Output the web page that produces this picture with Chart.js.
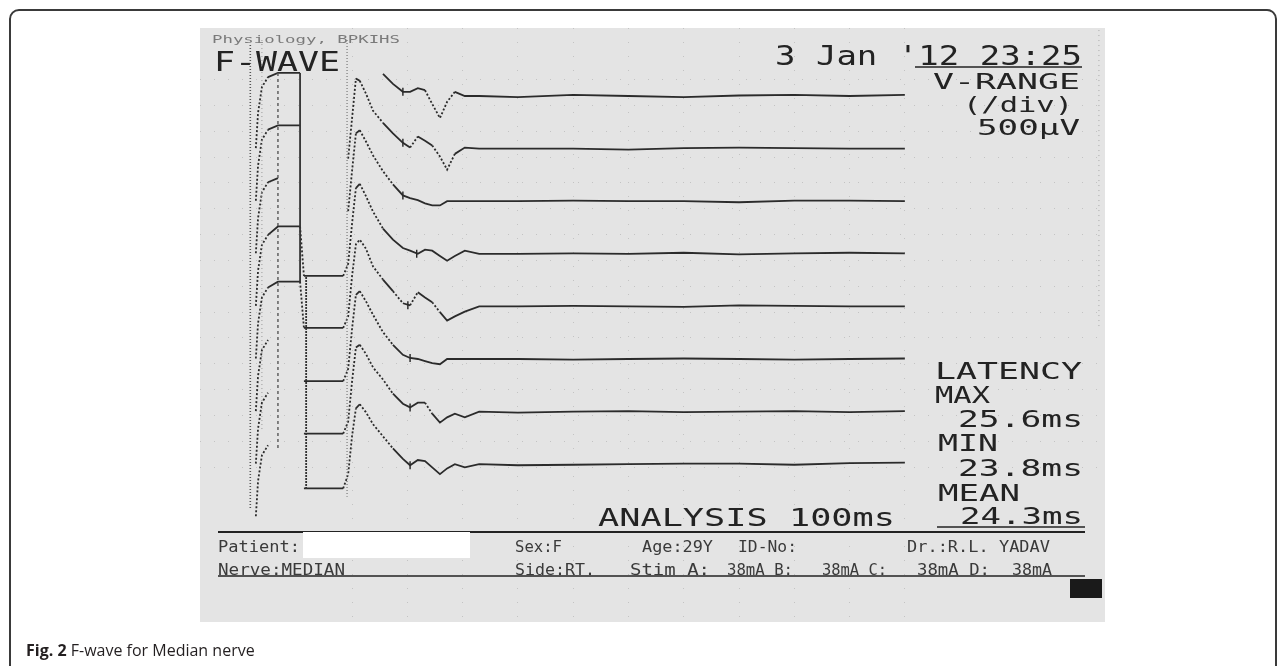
<!DOCTYPE html>
<html>
<head>
<meta charset="utf-8">
<title>F-wave for Median nerve</title>
<script src="https://cdn.jsdelivr.net/npm/chart.js@4.4.1/dist/chart.umd.min.js"></script>
<style>
html, body { margin: 0; padding: 0; background: #fff; }
body { width: 1284px; height: 666px; position: relative; overflow: hidden; }
#frame { position: absolute; left: 9px; top: 9px; width: 1268px; height: 690px; border: 2px solid #3a3a3a; border-radius: 10px; box-sizing: border-box; }
#c { position: absolute; left: 0; top: 0; }
#caption { position: absolute; left: 26px; top: 640px; font-family: "Open Sans", "Noto Sans", sans-serif; font-size: 16px; line-height: 20px; color: #231f20; white-space: nowrap; }
#caption b { font-weight: 700; }
</style>
</head>
<body>
<div id="frame"></div>
<canvas id="c" width="1284" height="666"></canvas>
<div id="caption"><b>Fig. 2</b> F-wave for Median nerve</div>
<script>
// time axis in ms (0 = stimulus), amplitude in µV, each sweep shifted down by 1000 µV
const stimTimes = [-17.4, -17.0, -16.3, -15.2, -13.4, -9.4, -8.7, -1.6];
const respTimes = [-0.7, 0, 0.7, 1.4, 2.5, 3.8, 5.6, 7.4, 9.2, 10.5,
                   11.9, 13.2, 14.5, 15.9, 17.2, 18.6, 20.4, 23,
                   30, 40, 50, 60, 70, 80, 90, 100];
const baselines = [0, -1000, -2000, -3000, -4000, -5000, -6000, -7000];

// left part of each sweep (calibration step), null = gap in the print
const stim1 = [-990, -320, 170, 360, 440, 440, null, null];
const stim2 = [-990, -320, 170, 360, 440, 440, null, null];
const stim3 = [-990, -320, 170, 360, 440, null, null, null];
const stim4 = [-990, -320, 170, 360, 520, 520, -420, -420];
const stim5 = [-990, -320, 170, 360, 470, 470, -410, -410];
const stim6 = [-990, -320, 170, 360, null, null, -420, -420];
const stim7 = [-990, -320, 170, 360, null, null, -420, -420];
const stim8 = [-990, -320, 170, 360, null, null, -460, -460];

// M-wave, F-wave and baseline of each sweep
const resp1 = [null, null, null, null, null, null, 420, 230, 80, 80, 150, 110, -150, -420, -110, 80, 0, 0, -20, 20, 0, -20, 10, 20, 0, 20];
const resp2 = [-190, 570, 1330, 1290, 1050, 720, 490, 290, 110, 20, 230, 150, 60, -150, -400, -100, 20, 0, 0, 0, -20, 10, 20, 10, 0, 0];
const resp3 = [-190, 570, 1290, 1350, 1140, 870, 570, 320, 110, 60, 20, -40, -80, -80, 0, 0, 0, 0, 0, 10, 0, 0, -20, 10, 10, 0];
const resp4 = [-190, 570, 1250, 1330, 1100, 800, 480, 270, 110, 60, 0, 80, 60, -40, -130, -40, 60, 0, 0, 10, 0, 20, -10, 10, 20, 10];
const resp5 = [-190, 570, 1180, 1270, 1100, 760, 510, 290, 60, 20, 270, 170, 80, -110, -270, -190, -100, 0, 0, 10, 0, -10, 20, 10, 0, 0];
const resp6 = [-190, 570, 1220, 1290, 1100, 840, 510, 270, 80, 20, 0, -40, -80, -100, 0, 0, 0, 0, 0, -10, 0, 10, 0, -10, 0, 10];
const resp7 = [-190, 570, 1220, 1270, 1100, 840, 610, 340, 150, 80, 170, 170, -40, -210, -110, -40, -110, 0, -20, 0, 10, -10, 0, 10, -10, 10];
const resp8 = [-190, 530, 1060, 1140, 990, 760, 530, 300, 100, -20, 80, 60, -60, -190, -80, 0, -60, 0, -20, -10, 0, 10, 10, -10, 20, 30];

// latency cursor marks on each sweep
const cursorTimes = [9.2, 9.2, 9.2, 11.7, 10.1, 10.5, 10.5, 10.5];
const cursorValues = [80, 110, 110, 0, 20, 20, 80, -20];

// dotted vertical guide lines of the printout
const guideTimes = [-18.4, -16.3, -13.4, -9.4, -8.3, -0.9, 135.1];
const guideTops = [969, 1064, 437, 437, -3440, 1064, 1254];
const guideBottoms = [-7870, -6350, -6730, -3540, -7490, -7620, -4450];

const stims = [stim1, stim2, stim3, stim4, stim5, stim6, stim7, stim8];
const resps = [resp1, resp2, resp3, resp4, resp5, resp6, resp7, resp8];
const allTimes = stimTimes.concat(respTimes);

const ink = '#232323';

// steep parts print as dotted on the thermal printer
function steepDash(ctx) {
    const dx = Math.abs(ctx.p1.x - ctx.p0.x);
    const dy = Math.abs(ctx.p1.y - ctx.p0.y);
    return dy > 1.2 * dx ? [2, 2] : undefined;
}

const guideStyles = [
    { color: '#555', width: 1.6, dash: [1, 2] },
    { color: '#999', width: 1, dash: [1, 3] },
    { color: '#555', width: 1.4, dash: [3, 3] },
    { color: '#333', width: 1.8, dash: [] },
    { color: '#333', width: 1.8, dash: [2, 1] },
    { color: '#777', width: 1.2, dash: [1, 2] },
    { color: '#aaa', width: 1, dash: [1, 4] }
];

const datasets = [];
guideTimes.forEach((t, i) => {
    datasets.push({
        data: [{ x: t, y: guideTops[i] }, { x: t, y: guideBottoms[i] }],
        borderColor: guideStyles[i].color,
        borderWidth: guideStyles[i].width,
        borderDash: guideStyles[i].dash,
        pointRadius: 0
    });
});
baselines.forEach((b, k) => {
    const vals = stims[k].concat(resps[k]);
    datasets.push({
        data: allTimes.map((t, i) => ({ x: t, y: vals[i] === null ? null : vals[i] + b })),
        borderColor: '#2b2b2b',
        borderWidth: 1.8,
        pointRadius: 0,
        tension: 0,
        spanGaps: false,
        segment: { borderDash: steepDash }
    });
});
datasets.push({
    type: 'scatter',
    data: cursorTimes.map((t, k) => ({ x: t, y: cursorValues[k] + baselines[k] })),
    pointStyle: 'line',
    rotation: 90,
    pointRadius: 4,
    borderColor: ink,
    borderWidth: 1.4,
    showLine: false
});

// printout texts: [text, left, right, centre y, cap height, colour]
const texts = [
    ['Physiology, BPKIHS', 212, 400, 39, 8, '#7a7a7a'],
    ['F-WAVE', 214, 340, 61, 20, ink],
    ["3 Jan '12 23:25", 775, 1082, 55, 19, ink],
    ['V-RANGE', 933, 1080, 81, 16, ink],
    ['(/div)', 963, 1073, 104, 16, ink],
    ['500\u00b5V', 977, 1080, 127, 16, ink],
    ['LATENCY', 935, 1082, 370, 17, ink],
    ['MAX', 935, 990, 394, 17, ink],
    ['25.6ms', 958, 1083, 418, 17, ink],
    ['MIN', 938, 998, 442, 17, ink],
    ['23.8ms', 958, 1083, 467, 17, ink],
    ['MEAN', 938, 1020, 492, 17, ink],
    ['24.3ms', 960, 1083, 515, 17, ink],
    ['ANALYSIS 100ms', 598, 895, 517, 18, ink],
    ['Patient:', 218, 300, 546, 12, '#3a3a3a'],
    ['Sex:F', 515, 562, 546, 12, '#3a3a3a'],
    ['Age:29Y', 642, 713, 546, 12, '#3a3a3a'],
    ['ID-No:', 738, 797, 546, 12, '#3a3a3a'],
    ['Dr.:R.L. YADAV', 907, 1050, 546, 12, '#3a3a3a'],
    ['Nerve:MEDIAN', 218, 345, 569, 12, '#3a3a3a'],
    ['Side:RT.', 515, 595, 569, 12, '#3a3a3a'],
    ['Stim A:', 630, 710, 569, 12, '#3a3a3a'],
    ['38mA B:', 727, 793, 569, 12, '#3a3a3a'],
    ['38mA C:', 822, 887, 569, 12, '#3a3a3a'],
    ['38mA D:', 917, 990, 569, 12, '#3a3a3a'],
    ['38mA', 1012, 1052, 569, 12, '#3a3a3a']
];

function fitText(ctx, str, x1, x2, cy, cap, color) {
    const size = cap / 0.73;
    ctx.font = size + 'px "DejaVu Sans Mono", monospace';
    const w = ctx.measureText(str).width;
    ctx.save();
    ctx.fillStyle = color;
    ctx.translate(x1, cy + cap / 2);
    ctx.scale((x2 - x1) / w, 1);
    ctx.fillText(str, 0, 0);
    ctx.restore();
}

function hline(ctx, x1, x2, y, w) {
    ctx.beginPath();
    ctx.moveTo(x1, y);
    ctx.lineTo(x2, y);
    ctx.lineWidth = w;
    ctx.strokeStyle = ink;
    ctx.stroke();
}

const printout = {
    id: 'printout',
    beforeDraw(chart) {
        const { ctx, chartArea: a } = chart;
        ctx.save();
        ctx.fillStyle = '#e4e4e4';
        ctx.fillRect(a.left, a.top, a.right - a.left, a.bottom - a.top);
        ctx.restore();
    },
    afterDraw(chart) {
        const ctx = chart.ctx;
        ctx.save();
        texts.forEach(t => fitText(ctx, t[0], t[1], t[2], t[3], t[4], t[5]));
        hline(ctx, 915, 1082, 67, 1.5);
        hline(ctx, 937, 1085, 527, 1.5);
        hline(ctx, 218, 1085, 532, 2);
        hline(ctx, 218, 1085, 576, 1.5);
        ctx.fillStyle = '#ffffff';
        ctx.fillRect(303, 532, 167, 26);
        ctx.fillStyle = '#1a1a1a';
        ctx.fillRect(1070, 579, 32, 19);
        ctx.restore();
    }
};

function gridColor(lo, hi, odd) {
    return function(ctx) {
        const v = ctx.tick ? ctx.tick.value : null;
        if (v === null || v < lo || v > hi) return 'transparent';
        if (odd && Math.abs(v % 1000) < 1) return 'transparent';
        if (!odd && Math.abs(v % 10) > 0.01) return 'transparent';
        return 'rgba(0,0,0,0.14)';
    };
}

new Chart(document.getElementById('c'), {
    type: 'line',
    data: { datasets: datasets },
    options: {
        responsive: false,
        animation: false,
        devicePixelRatio: 1,
        layout: { padding: { left: 200, top: 28, right: 179, bottom: 44 } },
        plugins: { legend: { display: false }, tooltip: { enabled: false } },
        scales: {
            x: {
                type: 'linear', min: -27.5, max: 136.2,
                ticks: { display: false, stepSize: 10 },
                grid: { drawTicks: false, color: gridColor(0, 100, false) },
                border: { display: false, dash: [1, 13] }
            },
            y: {
                type: 'linear', min: -10000, max: 1293,
                ticks: { display: false, stepSize: 500 },
                grid: { drawTicks: false, color: gridColor(-7500, 600, true) },
                border: { display: false, dash: [1, 13] }
            }
        }
    },
    plugins: [printout]
});
</script>
</body>
</html>
